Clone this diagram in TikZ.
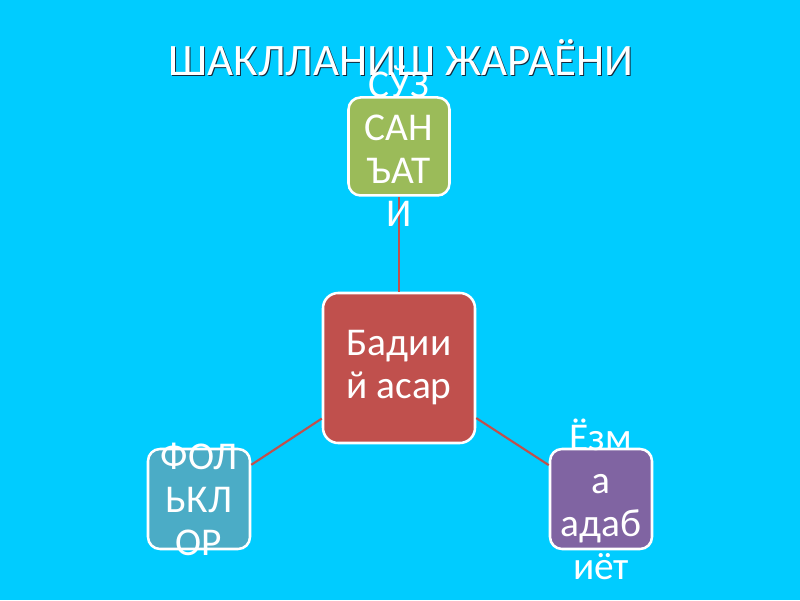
\documentclass[tikz,border=0pt]{standalone}
\usepackage{fontspec}
\setmainfont{Carlito}
\usetikzlibrary{positioning}

\definecolor{skyback}{RGB}{0,204,255}
\definecolor{boxred}{RGB}{192,80,77}
\definecolor{boxgreen}{RGB}{155,187,89}
\definecolor{boxteal}{RGB}{75,172,198}
\definecolor{boxpurple}{RGB}{128,100,162}
\definecolor{titleshade}{RGB}{20,40,60}

\begin{document}
\begin{tikzpicture}
    % Styles for the boxes and their texts
    \tikzset{
        box/.style={draw=white, line width=1.8pt, rounded corners=0.3cm,
            minimum width=2.55cm, minimum height=2.5cm, inner sep=0pt},
        boxtext/.style={text=white, align=center,
            font=\fontsize{28}{30.6}\selectfont},
        link/.style={draw=boxred, line width=1.5pt}
    }

    % Background
    \fill[skyback] (0,0) rectangle (20,15);
    \useasboundingbox (0,0) rectangle (20,15);

    % Title with its thin shadow
    \node[text=titleshade, font=\fontsize{32}{38}\selectfont] (titleshadow)
        at (10.05,13.53) {ШАКЛЛАНИШ ЖАРАЁНИ};
    \node[text=white, font=\fontsize{32}{38}\selectfont] (title)
        at (10.025,13.55) {ШАКЛЛАНИШ ЖАРАЁНИ};

    % Boxes
    \node[box, fill=boxred, minimum width=3.8cm, minimum height=3.75cm,
        rounded corners=0.38cm] (asar) at (9.975,5.8) {};
    \node[box, fill=boxgreen, minimum width=2.525cm, minimum height=2.45cm,
        above=2.375cm of asar] (sanat) {};
    \node[box, fill=boxteal] (folklor) at (4.975,2.525) {};
    \node[box, fill=boxpurple] (adabiyot) at (15.025,2.525) {};

    % Links
    \draw[link] (asar) -- (sanat);
    \draw[link] (asar) -- (folklor);
    \draw[link] (asar) -- (adabiyot);

    % Texts
    \node[boxtext] (asartext) at (asar) {Бадии\\й асар};
    \node[boxtext] (sanattext) at (sanat) {СЎЗ\\САН\\ЪАТ\\И};
    \node[boxtext] (folklortext) at (folklor) {ФОЛ\\ЬКЛ\\ОР};
    \node[boxtext] (adabiyottext) at (adabiyot) {Ёзм\\а\\адаб\\иёт};
\end{tikzpicture}
\end{document}
